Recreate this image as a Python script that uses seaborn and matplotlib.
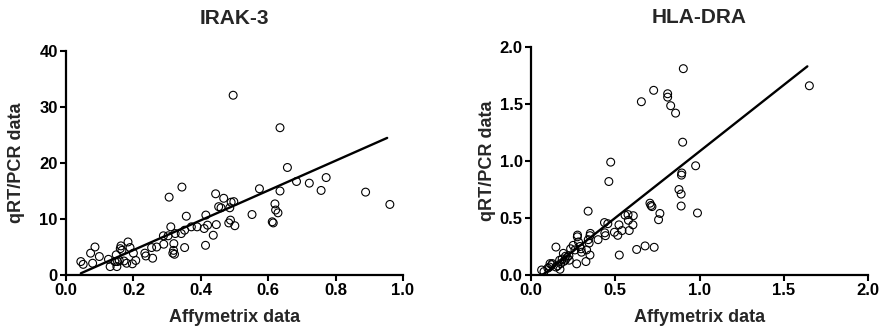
import numpy as np
import pandas as pd
import matplotlib
matplotlib.use("Agg")
import matplotlib.pyplot as plt
import seaborn as sns

# ---- data ----
irak_x = [0.044, 0.051, 0.086, 0.073, 0.079, 0.099, 0.126, 0.131, 0.149, 0.151,
          0.153, 0.161, 0.163, 0.166, 0.158, 0.180, 0.184, 0.190, 0.197, 0.200,
          0.207, 0.145, 0.172, 0.234, 0.237, 0.257, 0.254, 0.269, 0.289, 0.290,
          0.306, 0.311, 0.303, 0.317, 0.320, 0.319, 0.322, 0.324, 0.344, 0.342,
          0.352, 0.357, 0.352, 0.372, 0.389, 0.410, 0.415, 0.420, 0.414, 0.437,
          0.444, 0.446, 0.453, 0.460, 0.468, 0.483, 0.488, 0.486, 0.490, 0.498,
          0.496, 0.501, 0.552, 0.574, 0.612, 0.615, 0.620, 0.622, 0.629, 0.635,
          0.635, 0.657, 0.684, 0.722, 0.772, 0.757, 0.889, 0.961]
irak_y = [2.4, 1.9, 5.0, 3.9, 2.1, 3.3, 2.8, 1.5, 3.6, 1.5,
          2.4, 4.7, 5.2, 4.4, 2.6, 2.1, 5.9, 4.9, 2.0, 3.9,
          2.6, 2.4, 2.5, 3.9, 3.4, 3.0, 4.9, 5.0, 7.0, 5.5,
          13.9, 8.6, 7.0, 3.9, 5.6, 4.4, 3.7, 7.4, 15.7, 7.4,
          8.0, 10.5, 4.9, 8.6, 8.6, 8.3, 10.7, 8.9, 5.3, 7.1,
          14.5, 9.0, 12.2, 12.0, 13.7, 9.3, 9.8, 12.0, 13.0, 13.1,
          32.1, 8.8, 10.8, 15.4, 9.5, 9.3, 12.7, 11.6, 11.1, 26.3,
          15.0, 19.2, 16.7, 16.4, 17.4, 15.1, 14.8, 12.6]
# fitted line as drawn in the reference (slope, intercept, x-range)
irak_fit = [26.6, -0.87]
irak_fit_range = [0.044, 0.953]

hla_x = [0.904, 0.728, 0.655, 0.811, 0.811, 0.829, 0.858, 0.900, 0.977, 0.895,
         0.893, 0.878, 0.891, 0.891, 0.988, 0.473, 0.462, 0.339, 0.706, 0.712,
         0.718, 0.765, 0.757, 0.677, 0.731, 0.627, 0.524, 0.607, 0.576, 0.558,
         0.578, 0.605, 0.583, 0.522, 0.515, 0.495, 0.540, 0.436, 0.456, 0.438,
         0.442, 0.398, 0.352, 0.350, 0.350, 0.326, 0.276, 0.275, 0.282, 0.290,
         0.250, 0.235, 0.271, 0.148, 0.192, 0.205, 0.215, 0.225, 0.203, 0.227,
         0.261, 0.297, 0.300, 0.330, 0.340, 0.345, 0.063, 0.077, 0.100, 0.110,
         0.127, 0.148, 0.158, 0.172, 0.176, 0.185, 0.195, 0.170, 0.113, 0.123,
         1.652]
hla_y = [1.81, 1.62, 1.52, 1.59, 1.56, 1.485, 1.42, 1.165, 0.958, 0.895,
         0.876, 0.75, 0.71, 0.605, 0.544, 0.99, 0.82, 0.56, 0.63, 0.61,
         0.60, 0.54, 0.485, 0.255, 0.243, 0.224, 0.175, 0.52, 0.53, 0.525,
         0.48, 0.44, 0.39, 0.44, 0.348, 0.375, 0.39, 0.46, 0.45, 0.37,
         0.345, 0.31, 0.365, 0.345, 0.175, 0.118, 0.35, 0.335, 0.29, 0.25,
         0.26, 0.23, 0.098, 0.245, 0.19, 0.165, 0.155, 0.17, 0.13, 0.13,
         0.22, 0.23, 0.20, 0.22, 0.31, 0.28, 0.044, 0.03, 0.06, 0.07,
         0.10, 0.07, 0.08, 0.05, 0.10, 0.14, 0.12, 0.13, 0.10, 0.09,
         1.66]
hla_fit = [1.166, -0.082]
hla_fit_range = [0.063, 1.64]

titles = ["IRAK-3", "HLA-DRA"]
x_label = "Affymetrix data"
y_label = "qRT/PCR data"
irak_xticks = [0.0, 0.2, 0.4, 0.6, 0.8, 1.0]
irak_yticks = [0, 10, 20, 30, 40]
hla_xticks = [0.0, 0.5, 1.0, 1.5, 2.0]
hla_yticks = [0.0, 0.5, 1.0, 1.5, 2.0]

# ---- style ----
sns.set_style("ticks")
plt.rcParams['font.family'] = ['Liberation Sans', 'DejaVu Sans']
plt.rcParams['font.weight'] = 'bold'

fig = plt.figure(figsize=(8.83, 3.30), dpi=100)
W, H = 883, 330
ax1 = fig.add_axes([66 / W, (330 - 275) / H, 337 / W, 224 / H])
ax2 = fig.add_axes([531 / W, (330 - 275) / H, 337 / W, 228 / H])

panels = [
    (ax1, irak_x, irak_y, irak_fit, irak_fit_range, irak_xticks, irak_yticks,
     "{:.0f}", "{:.1f}", -0.122, 19.5),
    (ax2, hla_x, hla_y, hla_fit, hla_fit_range, hla_xticks, hla_yticks,
     "{:.1f}", "{:.1f}", -0.103, 17.0),
]

for i, (ax, xs, ys, fit, frange, xt, yt, yfmt, xfmt, ylx, tpad) in enumerate(panels):
    df = pd.DataFrame({"x": xs, "y": ys})
    line_df = pd.DataFrame({"x": frange,
                            "y": [fit[1] + fit[0] * v for v in frange]})
    sns.lineplot(data=line_df, x="x", y="y", ax=ax, color="black",
                 linewidth=1.7)
    sns.scatterplot(data=df, x="x", y="y", ax=ax, s=32, facecolor="none",
                    edgecolor="black", linewidth=0.8, zorder=3)
    ax.set_xlim(xt[0], xt[-1])
    ax.set_ylim(yt[0], yt[-1])
    ax.set_xticks(xt)
    ax.set_yticks(yt)
    ax.set_xticklabels([xfmt.format(v) for v in xt])
    ax.set_yticklabels([yfmt.format(v) for v in yt])
    ax.tick_params(axis="both", labelsize=12, width=1.5, length=4.5,
                   direction="out", pad=1.5, color="black", labelcolor="black")
    for lab in ax.get_xticklabels() + ax.get_yticklabels():
        lab.set_fontweight("bold")
    for side in ["left", "bottom"]:
        ax.spines[side].set_linewidth(1.6)
        ax.spines[side].set_color("black")
    sns.despine(ax=ax)
    ax.set_xlabel(x_label, fontsize=13, fontweight="bold")
    ax.set_ylabel(y_label, fontsize=13, fontweight="bold")
    ax.xaxis.set_label_coords(0.5, -0.15)
    ax.yaxis.set_label_coords(ylx, 0.5)
    ax.set_title(titles[i], fontsize=15, fontweight="bold", pad=tpad)
    for c in ax.collections:
        c.set_clip_on(False)

fig.savefig("out.png", dpi=100)
